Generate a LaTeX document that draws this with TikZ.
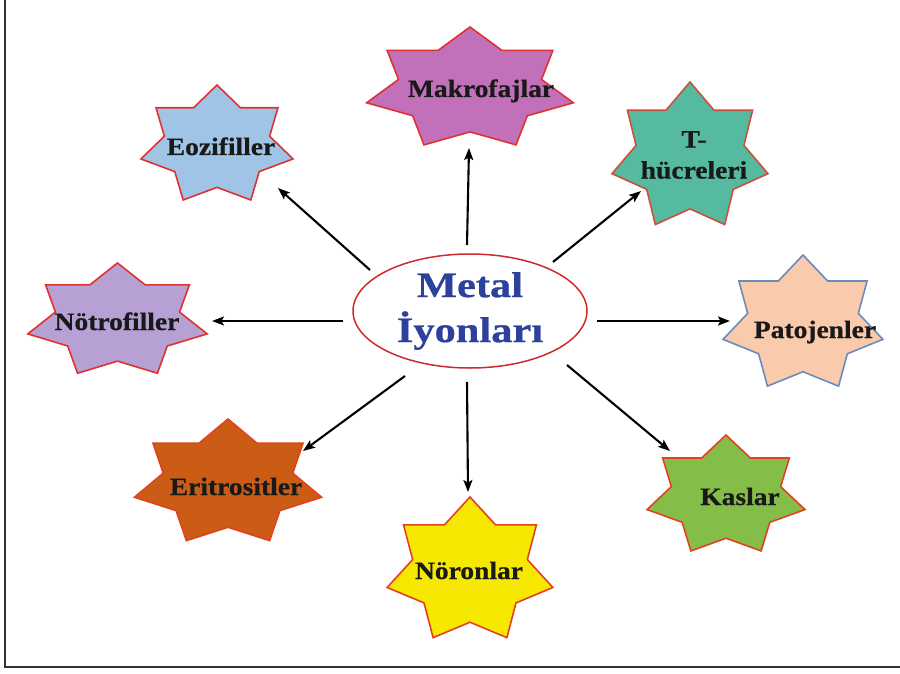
\documentclass[tikz,border=0pt]{standalone}
\usepackage{fontspec}
\setmainfont{Liberation Serif}
\newfontfamily\lblfont[FakeStretch=1.1,FakeBold=0.6]{Liberation Serif}
\newfontfamily\ttlfont[FakeStretch=1.18,FakeBold=0.6]{Liberation Serif}
\usetikzlibrary{arrows.meta,shapes.geometric}
\definecolor{cMak}{RGB}{194,112,186}
\definecolor{cEoz}{RGB}{160,196,230}
\definecolor{cThu}{RGB}{86,186,160}
\definecolor{cPat}{RGB}{250,202,172}
\definecolor{cKas}{RGB}{132,190,72}
\definecolor{cNor}{RGB}{246,232,0}
\definecolor{cEri}{RGB}{202,92,22}
\definecolor{cNot}{RGB}{182,160,212}
\definecolor{sRed}{RGB}{222,50,50}
\definecolor{sBrn}{RGB}{200,82,60}
\definecolor{sBlu}{RGB}{104,140,190}
\definecolor{sOra}{RGB}{226,66,34}
\definecolor{tBlue}{RGB}{44,64,156}
\definecolor{eRed}{RGB}{204,44,44}
\newcommand\sevstar[6]{%
  \begin{scope}[shift={(#1,#2)}]
    \filldraw[fill=#5, draw=#6, line width=1.6pt, line join=miter]
      (-90:{#3} and {#4})
      \foreach \i in {1,...,13}{ -- ({-90+\i*360/14}:{(1-0.308*mod(\i,2))*#3} and {(1-0.308*mod(\i,2))*#4}) }
      -- cycle;
  \end{scope}}
\begin{document}
\begin{tikzpicture}[x=1pt,y=-1pt,
  lbl/.style={font=\lblfont\bfseries\fontsize{25}{31}\selectfont, text=black!90, inner sep=0pt, align=center},
  arr/.style={-{Stealth[length=12pt,width=9pt,inset=2.5pt]}, line width=2.1pt, draw=black}]
\useasboundingbox (0,0) rectangle (900,674);
\fill[white] (0,0) rectangle (900,674);
% frame
\draw[line width=1.5pt, draw=black!80] (5,0) -- (5,667) -- (900,667);
% stars
\sevstar{470}{89}{106}{62}{cMak}{sRed}
\sevstar{217}{145.5}{78}{60.5}{cEoz}{sRed}
\sevstar{690}{157}{80}{75}{cThu}{sBrn}
\sevstar{803}{324}{82}{69}{cPat}{sBlu}
\sevstar{726}{496}{81}{61}{cKas}{sOra}
\sevstar{470}{571}{85}{74}{cNor}{sOra}
\sevstar{228}{483}{96}{64}{cEri}{sOra}
\sevstar{117.5}{321}{92}{58}{cNot}{sRed}
% labels
\node[lbl, anchor=base] (mak) at (481,97) {Makrofajlar};
\node[lbl, anchor=base] (eoz) at (221,155) {Eozifiller};
\node[lbl] (thu) at (694,155) {T-\\hücreleri};
\node[lbl, anchor=base] (pat) at (815,338) {Patojenler};
\node[lbl, anchor=base] (kas) at (740,505) {Kaslar};
\node[lbl, anchor=base] (nor) at (469,579) {Nöronlar};
\node[lbl, anchor=base] (eri) at (236,495) {Eritrositler};
\node[lbl, anchor=base] (not) at (117,330) {Nötrofiller};
% center
\node[ellipse, draw=eRed, line width=1.5pt, minimum width=234pt, minimum height=114pt, inner sep=0pt,
  font=\ttlfont\bfseries\fontsize{36}{45}\selectfont, text=tBlue, align=center] (metal) at (470,311) {Metal\\İyonları};
% arrow end coordinates
\coordinate (a1s) at (467,245); \coordinate (a1e) at (469,148);
\coordinate (a2s) at (370,270); \coordinate (a2e) at (278,188);
\coordinate (a3s) at (553,262); \coordinate (a3e) at (641,191);
\coordinate (a4s) at (343,321); \coordinate (a4e) at (212,321);
\coordinate (a5s) at (597,321); \coordinate (a5e) at (730,321);
\coordinate (a6s) at (567,365); \coordinate (a6e) at (670,451);
\coordinate (a7s) at (467,382); \coordinate (a7e) at (468,492);
\coordinate (a8s) at (405,376); \coordinate (a8e) at (303,451);
\foreach \k in {1,...,8}{\draw[arr] (a\k s) -- (a\k e);}
\end{tikzpicture}
\end{document}
